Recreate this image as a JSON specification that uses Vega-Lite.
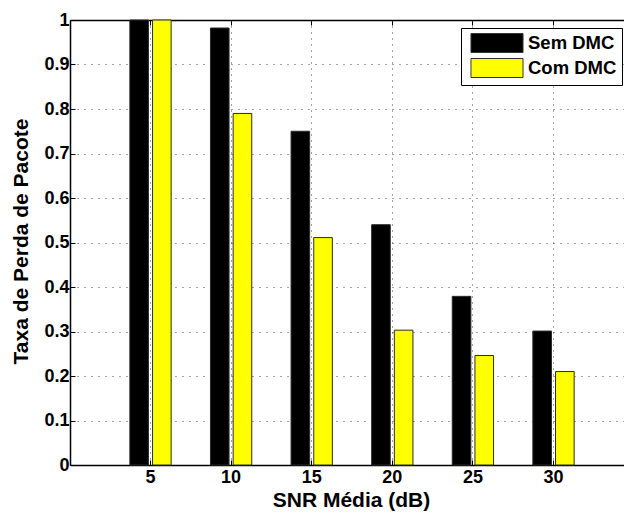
{
  "$schema": "https://vega.github.io/schema/vega-lite/v6.json",
  "width": 554,
  "height": 445,
  "autosize": {"type": "none"},
  "padding": {"left": 70, "top": 20, "right": 0, "bottom": 48},
  "background": "white",
  "config": {"font": "Liberation Sans", "view": {"stroke": null}},
  "data": {
    "values": [
      {"snr": 5, "serie": "Sem DMC", "taxa": 1.0},
      {"snr": 5, "serie": "Com DMC", "taxa": 1.0},
      {"snr": 10, "serie": "Sem DMC", "taxa": 0.982},
      {"snr": 10, "serie": "Com DMC", "taxa": 0.79},
      {"snr": 15, "serie": "Sem DMC", "taxa": 0.75},
      {"snr": 15, "serie": "Com DMC", "taxa": 0.511},
      {"snr": 20, "serie": "Sem DMC", "taxa": 0.54},
      {"snr": 20, "serie": "Com DMC", "taxa": 0.303},
      {"snr": 25, "serie": "Sem DMC", "taxa": 0.379},
      {"snr": 25, "serie": "Com DMC", "taxa": 0.246},
      {"snr": 30, "serie": "Sem DMC", "taxa": 0.301},
      {"snr": 30, "serie": "Com DMC", "taxa": 0.21}
    ]
  },
  "encoding": {
    "x": {
      "field": "snr",
      "type": "ordinal",
      "scale": {"domain": [5, 10, 15, 20, 25, 30], "paddingInner": 0.4876, "paddingOuter": 0.6805, "align": 0.5456},
      "axis": {
        "orient": "bottom",
        "labelAngle": 0,
        "labelFont": "Liberation Sans",
        "labelFontSize": 18,
        "labelFontWeight": "bold",
        "labelColor": "black",
        "labelPadding": 8,
        "tickSize": -5,
        "tickColor": "black",
        "domainColor": "black",
        "domainWidth": 1.5,
        "grid": true,
        "gridColor": "#444",
        "gridDash": [1, 5],
        "gridWidth": 1,
        "title": "SNR Média (dB)",
        "titleFont": "Liberation Sans",
        "titleFontSize": 21,
        "titleFontWeight": "bold",
        "titleColor": "black",
        "titleX": 281,
        "titleY": 41,
        "titleBaseline": "alphabetic",
        "titleAlign": "center"
      }
    },
    "xOffset": {
      "field": "serie",
      "type": "nominal",
      "scale": {"domain": ["Sem DMC", "Com DMC"], "paddingInner": 0.18, "paddingOuter": 0}
    },
    "y": {
      "field": "taxa",
      "type": "quantitative",
      "scale": {"domain": [0, 1], "nice": false},
      "axis": {
        "values": [0, 0.1, 0.2, 0.3, 0.4, 0.5, 0.6, 0.7, 0.8, 0.9, 1],
        "format": "~g",
        "labelFont": "Liberation Sans",
        "labelFontSize": 18,
        "labelFontWeight": "bold",
        "labelColor": "black",
        "labelPadding": 6,
        "tickSize": -5,
        "tickColor": "black",
        "domainColor": "black",
        "domainWidth": 1.5,
        "grid": true,
        "gridColor": "#444",
        "gridDash": [1, 6],
        "gridWidth": 1,
        "title": "Taxa de Perda de Pacote",
        "titleFont": "Liberation Sans",
        "titleFontSize": 21,
        "titleFontWeight": "bold",
        "titleColor": "black",
        "titleAngle": -90,
        "titleX": -43,
        "titleY": 221,
        "titleBaseline": "alphabetic",
        "titleAlign": "center"
      }
    }
  },
  "layer": [
    {
      "mark": {"type": "bar", "stroke": "#2a2a2a", "strokeWidth": 1, "opacity": 1},
      "encoding": {
        "color": {
          "field": "serie",
          "type": "nominal",
          "scale": {"domain": ["Sem DMC", "Com DMC"], "range": ["#000000", "#ffff00"]},
          "legend": {
            "title": null,
            "orient": "none",
            "legendX": 391,
            "legendY": 8,
            "fillColor": "white",
            "strokeColor": "black",
            "padding": 5,
            "symbolType": "M-2.74,-1H2.74V1H-2.74Z",
            "symbolSize": 361,
            "symbolOffset": 21,
            "symbolStrokeColor": "#333",
            "symbolStrokeWidth": 1,
            "symbolOpacity": 1,
            "labelFont": "Liberation Sans",
            "labelFontSize": 18.5,
            "labelFontWeight": "bold",
            "labelColor": "black",
            "labelOffset": 21,
            "rowPadding": 1
          }
        }
      }
    },
    {
      "mark": {"type": "bar", "opacity": 0},
      "encoding": {
        "x": {
          "field": "snr",
          "type": "ordinal",
          "axis": {
            "orient": "top",
            "labels": false,
            "title": null,
            "grid": false,
            "tickSize": -5,
            "tickColor": "black",
            "domainColor": "black",
            "domainWidth": 1.5
          }
        }
      }
    }
  ],
  "resolve": {"axis": {"x": "independent"}}
}
